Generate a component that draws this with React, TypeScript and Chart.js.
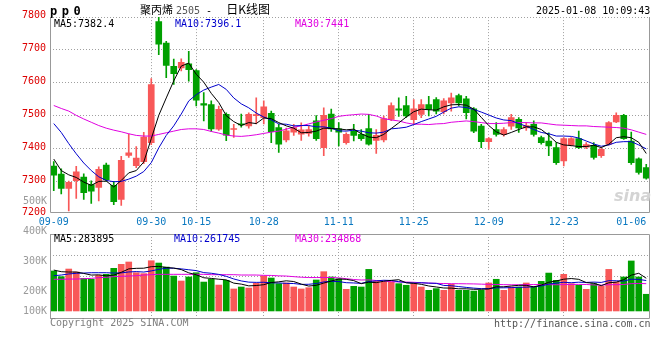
import React, { useEffect, useRef } from 'react';
import { Chart, registerables } from 'chart.js';

Chart.register(...registerables);

// ---------- data ----------
const dates = ['09-09','09-10','09-11','09-12','09-13','09-18','09-19','09-20','09-23','09-24','09-25','09-26','09-27','09-30',
'10-08','10-09','10-10','10-11','10-14','10-15','10-16','10-17','10-18','10-21','10-22','10-23','10-24','10-25',
'10-28','10-29','10-30','10-31','11-01','11-04','11-05','11-06','11-07','11-08',
'11-11','11-12','11-13','11-14','11-15','11-18','11-19','11-20','11-21','11-22',
'11-25','11-26','11-27','11-28','11-29','12-02','12-03','12-04','12-05','12-06',
'12-09','12-10','12-11','12-12','12-13','12-16','12-17','12-18','12-19','12-20',
'12-23','12-24','12-25','12-26','12-27','12-30','12-31','01-02','01-03','01-06','01-07','01-08'];

const labeledDates = ['09-09','09-30','10-15','10-28','11-11','11-25','12-09','12-23','01-06'];
const gridDates = ['09-30','10-15','10-28','11-11','11-25','12-09','12-23'];

const opens = [7347,7322,7279,7302,7313,7290,7282,7350,7288,7245,
7379,7348,7360,7418,7786,7721,7650,7645,7658,7637,
7537,7534,7459,7504,7458,7475,7469,7500,7494,7507,
7464,7426,7450,7444,7446,7484,7403,7505,7460,7418,
7453,7443,7461,7425,7426,7489,7521,7531,7488,7504,
7534,7549,7512,7539,7561,7551,7521,7468,7421,7458,
7443,7468,7489,7463,7474,7433,7423,7403,7362,7410,
7430,7404,7410,7378,7413,7481,7501,7423,7369,7342];

const highs = [7360,7338,7301,7346,7323,7302,7344,7356,7300,7376,
7444,7406,7449,7613,7805,7726,7672,7673,7696,7640,
7570,7545,7529,7509,7474,7505,7509,7554,7545,7514,
7474,7462,7474,7478,7468,7500,7524,7520,7479,7448,
7474,7458,7504,7458,7499,7539,7554,7559,7549,7549,
7559,7555,7552,7569,7566,7559,7525,7474,7433,7479,
7464,7504,7494,7479,7484,7438,7448,7418,7433,7433,
7453,7418,7418,7403,7482,7509,7504,7450,7372,7352];

const lows = [7272,7262,7210,7248,7245,7233,7241,7300,7229,7227,
7373,7342,7354,7412,7686,7616,7595,7636,7605,7530,
7484,7452,7455,7424,7434,7465,7462,7475,7475,7418,
7388,7420,7440,7425,7438,7425,7378,7452,7408,7413,
7423,7425,7410,7385,7420,7485,7498,7495,7475,7494,
7499,7505,7505,7514,7530,7490,7448,7403,7398,7438,
7438,7458,7449,7455,7438,7413,7378,7352,7347,7408,
7400,7400,7368,7373,7410,7479,7428,7352,7322,7307];

const closes = [7319,7279,7297,7329,7266,7270,7337,7305,7238,7364,
7387,7371,7435,7595,7718,7653,7628,7662,7640,7547,
7532,7460,7519,7441,7460,7472,7504,7502,7527,7451,
7413,7454,7464,7457,7458,7430,7501,7460,7450,7443,
7440,7430,7413,7440,7491,7531,7517,7499,7521,7534,
7519,7514,7545,7554,7539,7509,7453,7421,7430,7443,
7458,7494,7463,7470,7443,7418,7408,7357,7430,7430,
7403,7412,7373,7398,7479,7501,7430,7357,7327,7310];

const ma5 = [7368,7333,7320,7312,7298,7288,7300,7301,7283,7303,
7326,7333,7359,7430,7501,7554,7606,7651,7660,7626,
7602,7568,7540,7500,7482,7470,7479,7476,7493,7491,
7479,7469,7462,7448,7449,7453,7462,7461,7460,7457,
7459,7445,7435,7433,7443,7461,7478,7496,7512,7520,
7518,7517,7527,7533,7534,7532,7520,7495,7470,7451,
7441,7449,7458,7466,7466,7458,7440,7419,7411,7409,
7406,7406,7410,7403,7413,7433,7436,7433,7419,7385];

const ma10 = [7476,7449,7415,7384,7356,7333,7314,7303,7299,7300,
7307,7316,7330,7357,7402,7440,7469,7505,7545,7564,
7578,7587,7595,7580,7554,7536,7524,7508,7496,7487,
7475,7474,7469,7470,7470,7466,7466,7462,7454,7453,
7456,7453,7448,7447,7450,7460,7462,7465,7473,7482,
7490,7498,7511,7523,7527,7525,7519,7511,7502,7493,
7487,7485,7476,7468,7458,7449,7445,7438,7438,7437,
7432,7423,7414,7407,7411,7419,7421,7421,7411,7399];

const ma30 = [7531,7522,7514,7501,7490,7480,7470,7462,7456,7451,
7445,7440,7438,7438,7443,7448,7453,7458,7460,7460,
7458,7452,7447,7441,7438,7437,7439,7442,7446,7450,
7453,7459,7465,7469,7475,7481,7486,7491,7498,7501,
7503,7505,7504,7499,7491,7487,7484,7478,7474,7474,
7473,7475,7476,7480,7482,7484,7482,7479,7476,7476,
7477,7479,7479,7479,7478,7478,7475,7472,7471,7470,
7469,7469,7467,7466,7465,7464,7462,7457,7450,7443];

// volume, thousands of lots
const volumeK = [347,298,364,338,283,275,309,318,370,405,
425,332,324,436,416,381,303,260,295,332,
251,275,225,266,191,208,199,240,303,286,
237,243,208,191,202,269,341,295,280,188,
214,208,361,257,251,251,237,223,237,208,
179,194,179,231,179,179,173,179,243,275,
179,208,208,243,208,257,329,266,318,237,
223,188,237,214,361,251,295,434,295,145];

const volMa5 = [355,341,338,338,326,311.6,313.8,304.6,311,335.4,
365.4,370,371.2,384.4,386.6,377.8,372,359.2,331,314.2,
288.2,282.6,275.6,269.8,241.6,233,217.8,220.8,228.2,247.2,
253,261.8,255.4,233,216.2,222.6,242.2,259.6,277.4,274.6,
263.6,237,250.2,245.6,258.2,265.6,271.4,243.8,239.8,231.2,
216.8,208.2,199.4,198.2,192.4,192.4,188.2,188.2,190.6,209.8,
209.8,216.8,222.6,222.6,209.2,224.8,249,260.6,275.6,281.4,
274.6,246.4,240.6,219.8,244.6,250.2,271.6,311,327.2,284];

const volMa10 = [306,312,321,327,329,332,332,332,329,330.7,
338.5,341.9,337.9,347.7,361,371.6,371,365.2,357.7,350.4,
333,327.3,317.4,300.4,277.9,260.6,250.2,248.2,249,244.4,
243,239.8,238.1,230.6,231.7,237.8,252,257.5,255.2,245.4,
243.1,239.6,254.9,261.5,266.4,264.6,254.2,247,242.7,244.7,
241.2,239.8,221.6,219,211.8,204.6,198.2,193.8,194.4,201.1,
201.1,202.5,205.4,206.6,209.5,217.3,232.9,241.6,249.1,245.3,
249.7,247.7,250.6,247.7,263,262.4,259,275.8,273.5,264.3];

const volMa30 = [275,275,277,277,280,283,289,292,298,301,
303,306,312,315,318,318,318,318,318,318,
318,315,315,315,315,312,312,312,309,308.5,
304.8,303,297.8,292.9,290.2,290,291.1,290.3,287.3,280.1,
273,268.9,270.1,264.2,258.7,254.3,252.1,250.9,249,244.8,
242.4,239.7,238.2,237,236.6,235.7,234.8,232.8,230.8,230.4,
228.5,227.3,227.3,229,229.2,228.8,228.4,227.5,228.7,230.4,
230.7,230,225.9,224.4,228.1,228.1,230,237.1,239,236.9];

const priceTicks = [7200, 7300, 7400, 7500, 7600, 7700, 7800];
const volAxisValues = [500, 400, 300, 200, 100];
const volAxisLabels = ['500K', '400K', '300K', '200K', '100K'];

// ---------- styles ----------
const UP = '#f85858';
const DOWN = '#00a000';
const C5 = '#000000';
const C10 = '#0000cc';
const C30 = '#e000e0';
const GRID = '#a0a0a0';
const FRAME = '#999999';
const NONE = 'rgba(0,0,0,0)';
const MONO = '"DejaVu Sans Mono", monospace';
const CJK = '"Noto Sans CJK SC", sans-serif';

const candleColors = closes.map((c, i) => (c >= opens[i] ? UP : DOWN));
const labeledSet = new Set(labeledDates);
const gridSet = new Set(gridDates);

function framePlugin(top: boolean) {
  return {
    id: 'frame' + (top ? 'T' : 'F'),
    afterDraw(chart: any) {
      const { ctx, chartArea: a } = chart;
      const l = Math.floor(a.left) + 0.5;
      const r = Math.ceil(a.right) - 0.5;
      const t = Math.floor(a.top) + 0.5;
      const b = Math.floor(a.bottom) + 0.5;
      ctx.save();
      ctx.strokeStyle = FRAME;
      ctx.lineWidth = 1;
      ctx.beginPath();
      ctx.moveTo(l, top ? t : Math.floor(a.top));
      ctx.lineTo(l, b);
      ctx.lineTo(r, b);
      ctx.lineTo(r, top ? t : Math.floor(a.top));
      if (top) ctx.lineTo(l, t);
      ctx.stroke();
      ctx.restore();
    },
  };
}

function lineDs(data: number[], color: string, axis = 'y') {
  return {
    type: 'line' as const,
    data,
    yAxisID: axis,
    borderColor: color,
    borderWidth: 1,
    pointRadius: 0,
    tension: 0,
    fill: false,
    order: 0,
    clip: 0,
  };
}

function xAxis(showLabels: boolean, height: number) {
  return {
    type: 'category' as const,
    offset: true,
    ticks: {
      display: showLabels,
      autoSkip: false,
      maxRotation: 0,
      minRotation: 0,
      padding: 4,
      color: '#0a78c0',
      font: { family: MONO, size: 10 },
      callback: (_v: any, i: number) => (labeledSet.has(dates[i]) ? dates[i] : ''),
    },
    grid: {
      offset: false,
      drawTicks: false,
      lineWidth: 1,
      color: (c: any) => (gridSet.has(dates[c.index]) ? GRID : NONE),
    },
    border: { display: false, dash: [1, 2] },
    afterFit: (s: any) => {
      s.height = height;
    },
  };
}

export default function App() {
  const priceRef = useRef<HTMLCanvasElement>(null);
  const volRef = useRef<HTMLCanvasElement>(null);

  useEffect(() => {
    const priceChart = new Chart(priceRef.current as HTMLCanvasElement, {
      type: 'bar',
      data: {
        labels: dates,
        datasets: [
          lineDs(ma5, C5),
          lineDs(ma10, C10),
          lineDs(ma30, C30),
          {
            type: 'bar',
            data: opens.map((o, i) => [o, closes[i]]),
            backgroundColor: candleColors,
            borderWidth: 0,
            barThickness: 6,
            minBarLength: 1,
            grouped: false,
            order: 1,
            clip: 0,
          } as any,
          {
            type: 'bar',
            data: lows.map((l, i) => [l, highs[i]]),
            backgroundColor: candleColors,
            borderWidth: 0,
            barThickness: 1,
            grouped: false,
            order: 2,
            clip: 0,
          } as any,
        ],
      },
      options: {
        responsive: false,
        animation: false,
        devicePixelRatio: 1,
        events: [],
        layout: { padding: { top: 17.1, right: 10, left: 0, bottom: 0 } },
        plugins: { legend: { display: false }, tooltip: { enabled: false } },
        scales: {
          x: xAxis(true, 19.7) as any,
          y: {
            type: 'linear',
            min: 7206,
            max: 7800,
            bounds: 'data',
            afterBuildTicks: (s: any) => {
              s.ticks = priceTicks.map((v) => ({ value: v }));
            },
            ticks: {
              autoSkip: false,
              padding: 4,
              labelOffset: -1.5,
              color: '#dd0000',
              font: { family: MONO, size: 10 },
              callback: (v: any) => String(v),
            },
            grid: {
              drawTicks: false,
              color: (c: any) => (c.tick && c.tick.value >= 7300 ? GRID : NONE),
            },
            border: { display: false, dash: [1, 2] },
            afterFit: (s: any) => {
              s.width = 50;
            },
          } as any,
        },
      },
      plugins: [framePlugin(false)],
    });

    const volChart = new Chart(volRef.current as HTMLCanvasElement, {
      type: 'bar',
      data: {
        labels: dates,
        datasets: [
          lineDs(volMa5, C5),
          lineDs(volMa10, C10),
          lineDs(volMa30, C30),
          {
            type: 'bar',
            data: volumeK,
            yAxisID: 'y',
            backgroundColor: candleColors,
            borderWidth: 0,
            barThickness: 6,
            grouped: false,
            order: 1,
            clip: 0,
          } as any,
        ],
      },
      options: {
        responsive: false,
        animation: false,
        devicePixelRatio: 1,
        events: [],
        layout: { padding: { top: 44, right: 10, left: 0, bottom: 0 } },
        plugins: { legend: { display: false }, tooltip: { enabled: false } },
        scales: {
          x: xAxis(false, 12) as any,
          y: {
            type: 'linear',
            position: 'left',
            min: -61,
            max: 668,
            ticks: { display: false, count: 5 },
            grid: { drawTicks: false, color: GRID },
            border: { display: false, dash: [1, 2] },
            afterFit: (s: any) => {
              s.width = 0;
            },
          } as any,
          yl: {
            type: 'linear',
            position: 'left',
            min: 110,
            max: 390,
            bounds: 'data',
            afterBuildTicks: (s: any) => {
              s.ticks = volAxisValues.map((v) => ({ value: Math.max(v, s.min + 23) }));
            },
            ticks: {
              autoSkip: false,
              padding: 3,
              color: '#9a9a9a',
              font: { family: MONO, size: 10 },
              callback: (_v: any, i: number) => volAxisLabels[i],
            },
            grid: { display: false, drawTicks: false },
            border: { display: false },
            afterFit: (s: any) => {
              s.width = 50;
            },
          } as any,
        },
      },
      plugins: [framePlugin(true)],
    });

    return () => {
      priceChart.destroy();
      volChart.destroy();
    };
  }, []);

  const txt = (x: number, y: number, color: string, s: string, extra: any = {}) => (
    <div
      style={{
        position: 'absolute',
        left: x,
        top: y,
        color,
        fontFamily: MONO,
        fontSize: 10,
        lineHeight: '10px',
        whiteSpace: 'pre',
        ...extra,
      }}
    >
      {s}
    </div>
  );

  return (
    <div
      style={{
        position: 'fixed',
        left: 0,
        top: 0,
        width: 660,
        height: 360,
        background: '#ffffff',
        overflow: 'hidden',
      }}
    >
      <canvas
        ref={priceRef}
        width={660}
        height={232}
        style={{ position: 'absolute', left: 0, top: 0, width: 660, height: 232 }}
      />
      <canvas
        ref={volRef}
        width={660}
        height={140}
        style={{ position: 'absolute', left: 0, top: 190, width: 660, height: 140 }}
      />
      {/* header */}
      {txt(50, 5, '#000', 'pp0', { fontSize: 12, lineHeight: '12px', fontWeight: 'bold', letterSpacing: '4.5px' })}
      <div
        style={{
          position: 'absolute',
          left: 140,
          top: 1,
          fontFamily: CJK,
          fontSize: 11,
          lineHeight: '16px',
          whiteSpace: 'pre',
          color: '#000',
        }}
      >
        聚丙烯
        <span style={{ fontFamily: MONO, fontSize: 10, color: '#555', marginLeft: 3 }}>2505</span>
        <span style={{ fontFamily: MONO, fontSize: 10 }}> - </span>
        <span style={{ fontSize: 12, marginLeft: 8 }}>日K线图</span>
      </div>
      {txt(536, 6.4, '#000', '2025-01-08 10:09:43')}
      {/* price legend */}
      {txt(54, 18.5, C5, 'MA5:7382.4')}
      {txt(175, 18.5, C10, 'MA10:7396.1')}
      {txt(295, 18.5, C30, 'MA30:7441')}
      {/* volume legend */}
      {txt(54, 233.5, C5, 'MA5:283895')}
      {txt(174, 233.5, C10, 'MA10:261745')}
      {txt(295, 233.5, C30, 'MA30:234868')}
      {/* footer */}
      {txt(50, 318.2, '#808080', 'Copyright 2025 SINA.COM')}
      {txt(494, 318.5, '#555', 'http://finance.sina.com.cn')}
      {txt(614, 188, '#d4d4d4', 'sina', {
        fontFamily: '"DejaVu Sans", sans-serif',
        fontSize: 16,
        lineHeight: '16px',
        fontWeight: 'bold',
        fontStyle: 'italic',
      })}
    </div>
  );
}
